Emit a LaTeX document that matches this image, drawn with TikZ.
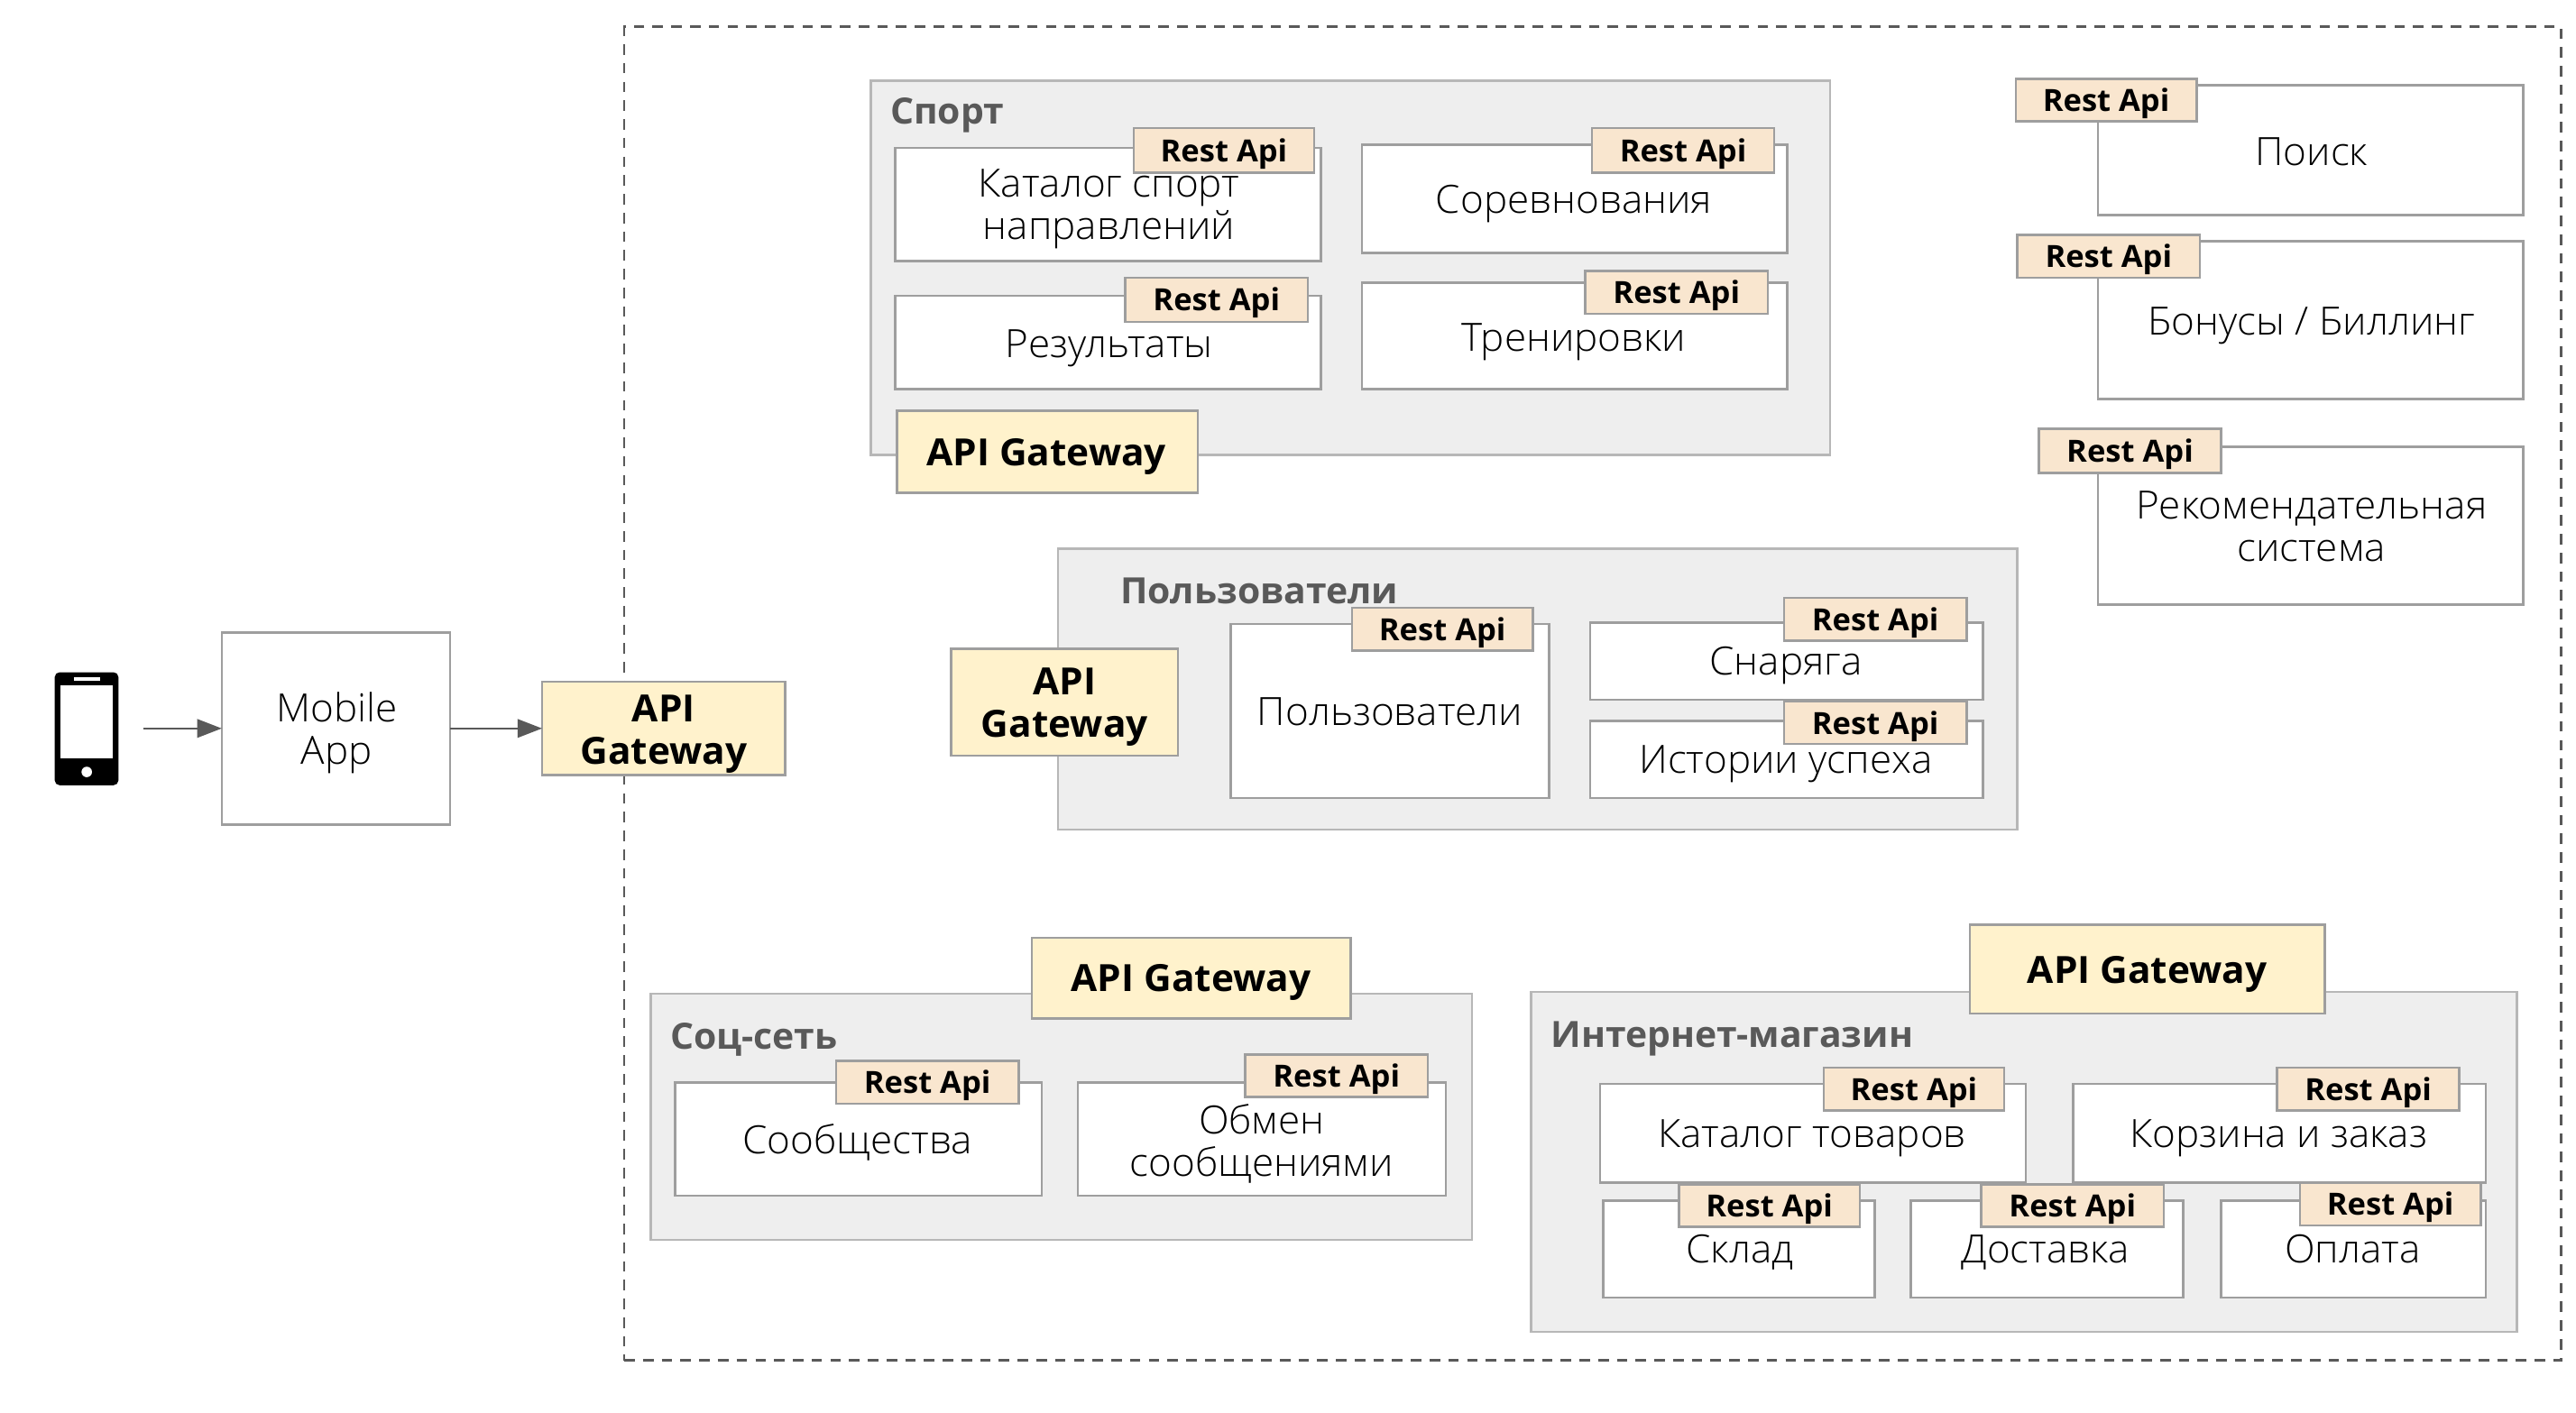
\documentclass[tikz,border=0pt]{standalone}
\usepackage{fontspec}
\setmainfont{Open Sans}[FakeStretch=1.02,UprightFont={* Light},BoldFont={* Bold}]
\usetikzlibrary{arrows.meta}
\definecolor{edgegrey}{HTML}{9E9E9E}
\definecolor{groupfill}{HTML}{EEEEEE}
\definecolor{groupedge}{HTML}{B7B7B7}
\definecolor{dark}{HTML}{595959}
\definecolor{gwfill}{HTML}{FFF2CC}
\definecolor{tagfill}{HTML}{F9E6CF}
\tikzset{
  x=0.5pt,y=-0.5pt,
  every node/.style={inner sep=0pt,outer sep=0pt},
  groupbox/.style={draw=groupedge,fill=groupfill,line width=0.7pt},
  svcbox/.style={draw=edgegrey,fill=white,line width=0.7pt},
  gwbox/.style={draw=edgegrey,fill=gwfill,line width=0.7pt},
  tagbox/.style={draw=edgegrey,fill=tagfill,line width=0.7pt},
  svctext/.style={font=\fontsize{11.85}{13}\selectfont,align=center,text=black,yshift=-1.7pt},
  gwtext/.style={font=\fontsize{11.4}{13}\selectfont\bfseries,align=center,text=black,yshift=-1.7pt},
  tagtext/.style={font=\fontsize{9.3}{11}\selectfont\bfseries,text=black,yshift=-0.8pt},
  grouptext/.style={font=\fontsize{11}{13}\selectfont\bfseries,text=dark,anchor=mid west,yshift=-1.7pt},
  flow/.style={draw=dark,line width=0.7pt,-{Triangle[length=7.5pt,width=5.6pt]}},
}
\newcommand{\bx}[6]{\node[#6,minimum width={(#4-#2)*0.5pt},minimum height={(#5-#3)*0.5pt}] (#1) at ({(#2+#4)/2},{(#3+#5)/2}) {};}
\newcommand{\tx}[5]{\node[#4,anchor=mid] (#1) at (#2,#3) {#5};}
\newcommand{\ml}[5]{\node[#4,anchor=center] (#1) at (#2,#3) {#5};}
\newcommand{\tagb}[5]{\bx{#1}{#2}{#3}{#4}{#5}{tagbox}\node[tagtext,anchor=mid] (#1t) at ({(#2+#4)/2},{(#3+#5)/2}) {Rest Api};}
\begin{document}
\begin{tikzpicture}
\useasboundingbox (0,0) rectangle (1568,859.8);
% outer dashed frame
\node[draw=dark,line width=0.7pt,dash pattern=on 3.2pt off 2.5pt,minimum width=589.5pt,minimum height=406pt] (frame) at (969.5,422.3) {};
% phone
\node[fill=black,rounded corners=1.5pt,minimum width=19.4pt,minimum height=34.4pt] (phone) at (52.7,443.7) {};
\node[fill=white,minimum width=16pt,minimum height=22.2pt] (screen) at (52.8,439.5) {};
\node[fill=white,minimum width=8pt,minimum height=1.2pt] (speaker) at (52.8,413.3) {};
\node[fill=white,circle,minimum size=3.2pt] (button) at (52.8,470) {};
% left
\bx{mobile}{135}{385}{274}{502}{svcbox}
\ml{mobilet}{205}{443}{svctext}{Mobile\\App}
\bx{gwmain}{330}{415}{478}{472}{gwbox}
\ml{gwmaint}{404}{443.5}{gwtext}{API\\Gateway}
\draw[flow,shorten <=7.5pt] (phone.east |- mobile.west) -- (mobile.west);
\draw[flow] (mobile.east) -- (gwmain.west);
% Sport
\bx{sport}{530}{49}{1114}{277}{groupbox}
\node[grouptext] (sportt) at (542,67) {Спорт};
\bx{katalog}{545}{90}{804}{159}{svcbox}
\ml{katalogt}{675}{124}{svctext}{Каталог спорт\\направлений}
\tagb{katalogr}{690}{78}{800}{105}
\bx{sorev}{829}{88}{1088}{154}{svcbox}
\tx{sorevt}{958}{121}{svctext}{Соревнования}
\tagb{sorevr}{969}{78}{1080}{105}
\bx{result}{545}{180}{804}{237}{svcbox}
\tx{resultt}{675}{209}{svctext}{Результаты}
\tagb{resultr}{685}{169}{796}{196}
\bx{train}{829}{172}{1088}{237}{svcbox}
\tx{traint}{958}{205}{svctext}{Тренировки}
\tagb{trainr}{965}{165}{1076}{191}
\bx{gwsport}{546}{250}{729}{300}{gwbox}
\tx{gwsportt}{637}{275}{gwtext}{API Gateway}
% right column
\bx{search}{1277}{52}{1536}{131}{svcbox}
\tx{searcht}{1407}{92}{svctext}{Поиск}
\tagb{searchr}{1227}{48}{1337}{74}
\bx{bonus}{1277}{147}{1536}{243}{svcbox}
\tx{bonust}{1407}{195}{svctext}{Бонусы / Биллинг}
\tagb{bonusr}{1228}{143}{1339}{169}
\bx{recom}{1277}{272}{1536}{368}{svcbox}
\ml{recomt}{1407}{317}{svctext}{Рекомендательная\\система}
\tagb{recomr}{1241}{261}{1352}{288}
% Users
\bx{users}{644}{334}{1228}{505}{groupbox}
\node[grouptext] (userst) at (682,359) {Пользователи};
\bx{gwusers}{579}{395}{717}{460}{gwbox}
\ml{gwuserst}{648}{427}{gwtext}{API\\Gateway}
\bx{user}{749}{380}{943}{486}{svcbox}
\tx{usert}{846}{433}{svctext}{Пользователи}
\tagb{userr}{823}{370}{933}{396}
\bx{gear}{968}{379}{1207}{426}{svcbox}
\tx{geart}{1087}{402}{svctext}{Снаряга}
\tagb{gearr}{1086}{364}{1197}{390}
\bx{story}{968}{439}{1207}{486}{svcbox}
\tx{storyt}{1087}{462}{svctext}{Истории успеха}
\tagb{storyr}{1086}{427}{1197}{453}
% Social
\bx{social}{396}{605}{896}{755}{groupbox}
\node[grouptext] (socialt) at (408,630) {Соц-сеть};
\bx{gwsocial}{628}{571}{822}{620}{gwbox}
\tx{gwsocialt}{725}{595}{gwtext}{API Gateway}
\bx{comm}{411}{659}{634}{728}{svcbox}
\tx{commt}{522}{694}{svctext}{Сообщества}
\tagb{commr}{509}{646}{620}{672}
\bx{msg}{656}{659}{880}{728}{svcbox}
\ml{msgt}{768}{693}{svctext}{Обмен\\сообщениями}
\tagb{msgr}{758}{642}{869}{668}
% Shop
\bx{shop}{932}{604}{1532}{811}{groupbox}
\node[grouptext] (shopt) at (944,629) {Интернет-магазин};
\bx{gwshop}{1199}{563}{1415}{617}{gwbox}
\tx{gwshopt}{1307}{590}{gwtext}{API Gateway}
\bx{goods}{974}{660}{1233}{720}{svcbox}
\tx{goodst}{1103}{690}{svctext}{Каталог товаров}
\tagb{goodsr}{1110}{650}{1220}{676}
\bx{cart}{1262}{660}{1513}{720}{svcbox}
\tx{cartt}{1387}{690}{svctext}{Корзина и заказ}
\tagb{cartr}{1386}{650}{1497}{676}
\bx{stock}{976}{731}{1141}{790}{svcbox}
\tx{stockt}{1059}{760}{svctext}{Склад}
\tagb{stockr}{1022}{721}{1132}{747}
\bx{deliv}{1163}{731}{1329}{790}{svcbox}
\tx{delivt}{1245}{760}{svctext}{Доставка}
\tagb{delivr}{1206}{721}{1317}{747}
\bx{pay}{1352}{731}{1513}{790}{svcbox}
\tx{payt}{1432}{760}{svctext}{Оплата}
\tagb{payr}{1400}{720}{1510}{746}
\end{tikzpicture}
\end{document}
